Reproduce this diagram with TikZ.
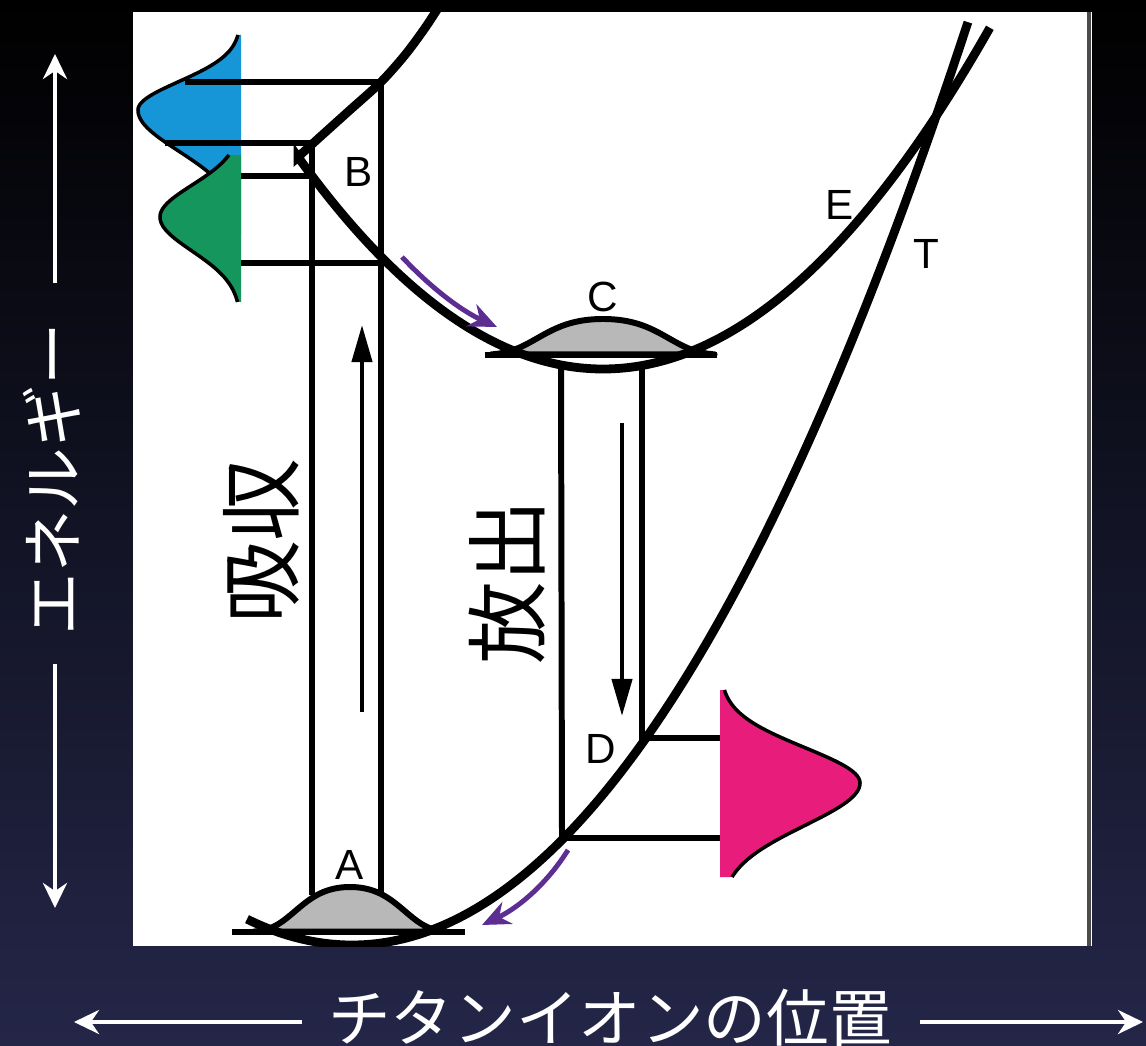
\documentclass[tikz,border=0pt]{standalone}
\usepackage{fontspec}
\setmainfont{Liberation Sans}
\newfontfamily\jp{Noto Sans CJK JP}
\usetikzlibrary{arrows.meta}
\definecolor{bluec}{RGB}{22,150,215}
\definecolor{greenc}{RGB}{20,150,92}
\definecolor{pinkc}{RGB}{232,28,122}
\definecolor{purplec}{RGB}{92,46,145}
\definecolor{navyc}{RGB}{36,38,72}
\definecolor{midc}{RGB}{6,8,26}
\begin{document}
\begin{tikzpicture}[x=0.01cm,y=-0.01cm,
  declare function={g(\p,\q)=exp(-((\p)/(\q))*((\p)/(\q)));
                    hb(\p)=exp(-0.5*(\p)*(\p)-0.5*(\p)*(\p)*(\p)*(\p));},
  curve/.style={line width=2.5pt},
  boxline/.style={line width=1.7pt},
  outline/.style={line width=1pt},
  bump/.style={fill=black!28,draw=black,line width=1.7pt,line join=round},
  barrow/.style={line width=1.2pt,-{Triangle[length=0.37cm,width=0.2cm]}},
  parrow/.style={draw=purplec,line width=1.4pt,-{Stealth[length=0.28cm,width=0.24cm]}},
  warrow/.style={draw=white,line width=1.1pt,-{Stealth[length=0.25cm,width=0.24cm]}},
  lab/.style={font=\fontsize{12}{14}\selectfont,inner sep=0pt},
  jpmid/.style={font=\jp\fontsize{23.5}{25}\selectfont,inner sep=0pt,rotate=90},
  jpout/.style={font=\jp\fontsize{17.8}{20}\selectfont,inner sep=0pt,text=white}]
\useasboundingbox (0,0) rectangle (1146,1046);
% background
\shade[top color=black,middle color=midc,bottom color=navyc] (0,0) rectangle (1146,1046);
% panel
\fill[white] (133,12) rectangle (1092,946);
\draw[black!70,line width=1.1pt] (1089,12) -- (1089,946);

\begin{scope}
\clip (133,12) rectangle (1092,946);
% --- coloured band shapes
\fill[bluec] (241,35) -- plot[domain=35:110,samples=40] ({241-103*g(\x-110,40)},\x)
   -- plot[domain=110:235,samples=50] ({241-103*g(\x-110,58)},\x) -- (241,235) -- cycle;
\draw[outline] plot[domain=35:110,samples=40] ({241-103*g(\x-110,40)},\x)
   -- plot[domain=110:200,samples=50] ({241-103*g(\x-110,58)},\x);
\fill[greenc] (241,155) -- plot[domain=155:217,samples=40] ({241-81*g(\x-217,45)},\x)
   -- plot[domain=217:302,samples=40] ({241-81*g(\x-217,48)},\x) -- (241,302) -- cycle;
\draw[outline] plot[domain=155:217,samples=40] ({241-81*g(\x-217,45)},\x)
   -- plot[domain=217:302,samples=40] ({241-81*g(\x-217,48)},\x);
\fill[pinkc] (720,690) -- plot[domain=690:783,samples=40] ({720+140*g(\x-783,50)},\x)
   -- plot[domain=783:877,samples=40] ({720+140*g(\x-783,60)},\x) -- (720,877) -- cycle;
\draw[outline] plot[domain=690:783,samples=40] ({720+140*g(\x-783,50)},\x)
   -- plot[domain=783:877,samples=40] ({720+140*g(\x-783,60)},\x);

% --- key points
\coordinate (bHiL) at (185,82);  \coordinate (bHiR) at (381,82);
\coordinate (bLoL) at (165,143); \coordinate (bLoR) at (312,143);
\coordinate (gHiL) at (241,176); \coordinate (gHiR) at (312,176);
\coordinate (gLoL) at (241,263); \coordinate (gLoR) at (381,263);
\coordinate (aL) at (312,895);   \coordinate (aR) at (381,892);
\coordinate (cL) at (561,366);   \coordinate (cR) at (642,366);
\coordinate (dHi) at (644,738);  \coordinate (dLo) at (562,838);
\coordinate (pHi) at (720,738);  \coordinate (pLo) at (720,838);
\coordinate (dHiB) at (642,740);

% --- level lines
\draw[boxline] (bHiL) -- (bHiR);
\draw[boxline] (bLoL) -- (bLoR);
\draw[boxline] (gHiL) -- (gHiR);
\draw[boxline] (gLoL) -- (gLoR);
\draw[boxline] (bHiR) -- (aR);
\draw[boxline] (bLoR) -- (aL);
\draw[boxline] (cL) -- (dLo);
\draw[boxline] (cR) -- (dHiB);
\draw[boxline] (dHi) -- (pHi);
\draw[boxline] (dLo) -- (pLo);

% --- ground-state bumps
\filldraw[bump] plot[domain=-1.6:1.6,samples=70] ({350+60*\x},{932-45*hb(\x)}) -- cycle;
\draw[boxline] (232,932) -- (465,932);
\filldraw[bump] plot[domain=-1.55:1.55,samples=70] ({603+72*\x},{355-36*hb(\x)}) -- cycle;
\draw[boxline] (485,355) -- (717,355);

% --- potential curves
\draw[curve,line join=miter,miter limit=4] plot[smooth] coordinates {(442,2) (425,28) (405,55) (381,82) (350,110) (320,137) (298,157)}
   -- plot[domain=-3.05:3.87,samples=140] ({603+100*\x},{369-22.8*(\x)*(\x)});
\draw[curve] plot[domain=-1.05:6.16,samples=140] ({352+100*\x},{945-23.6*(\x)*(\x)-0.118*(\x)*(\x)*(\x)});

% --- arrows inside
\coordinate (absS) at (362,712); \coordinate (absE) at (362,325);
\coordinate (emS) at (622,423);  \coordinate (emE) at (622,716);
\draw[barrow] (absS) -- (absE);
\draw[barrow] (emS) -- (emE);
\coordinate (p1s) at (402,257); \coordinate (p1e) at (497,327);
\coordinate (p2s) at (568,850); \coordinate (p2e) at (482,925);
\draw[parrow] (p1s) .. controls (432,289) and (462,311) .. (p1e);
\draw[parrow] (p2s) .. controls (548,882) and (520,907) .. (p2e);
\end{scope}

% --- labels
\node[lab] (A) at (350,865) {A};
\node[lab] (B) at (359,172) {B};
\node[lab] (C) at (603,297) {C};
\node[lab] (D) at (601,749) {D};
\node[lab] (E) at (840,205) {E};
\node[lab] (T) at (926,254) {T};
\node[jpmid] (abs) at (261,541) {吸収};
\node[jpmid] (emi) at (507,582) {放出};

% --- outer axes
\node[jpout,rotate=90] (ylab) at (52,479) {エネルギー};
\node[jpout] (xlab) at (610,1018) {チタンイオンの位置};
\coordinate (yUp0) at (55,283);  \coordinate (yUp1) at (55,54);
\coordinate (yDn0) at (55,664);  \coordinate (yDn1) at (55,908);
\coordinate (xL0) at (302,1022); \coordinate (xL1) at (74,1022);
\coordinate (xR0) at (920,1022); \coordinate (xR1) at (1143,1022);
\draw[warrow] (yUp0) -- (yUp1);
\draw[warrow] (yDn0) -- (yDn1);
\draw[warrow] (xL0) -- (xL1);
\draw[warrow] (xR0) -- (xR1);
\end{tikzpicture}
\end{document}
